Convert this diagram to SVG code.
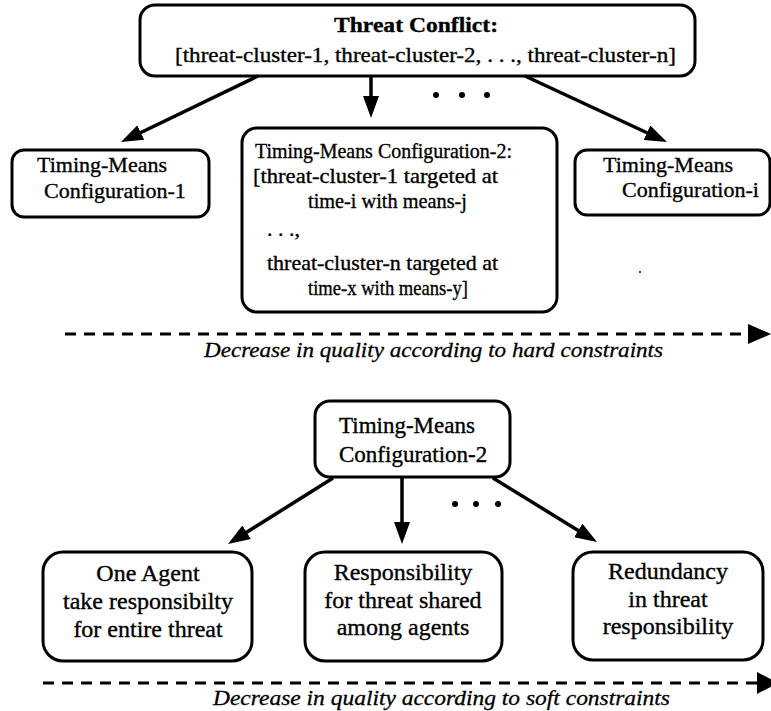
<svg xmlns="http://www.w3.org/2000/svg" width="771" height="711" viewBox="0 0 771 711">
  <style>
    .box { fill: #fff; stroke: #000; stroke-width: 3; }
    .t { font-family: "Liberation Serif", "Times New Roman", serif; fill: #000; stroke: #000; stroke-width: 0.35; }
    .n22 { font-size: 22px; }
    .n23 { font-size: 23px; }
    .n24 { font-size: 24px; }
    .mid { text-anchor: middle; }
    .b { font-weight: bold; }
    .cap { font-family: "Liberation Serif", serif; font-style: italic; font-size: 22px; fill: #000; stroke: #000; stroke-width: 0.3; }
    .edge { fill: none; stroke: #000; stroke-width: 3.5; marker-end: url(#head); }
    .dash { fill: none; stroke: #000; stroke-width: 3; stroke-dasharray: 11 8; }
  </style>
  <defs>
    <marker id="head" markerUnits="userSpaceOnUse" markerWidth="22" markerHeight="16" viewBox="0 0 22 16" refX="16" refY="8" orient="auto">
      <path d="M0,0 L22,8 L0,16 z" fill="#000"/>
    </marker>
  </defs>

  <rect width="771" height="711" fill="#fff"/>

  <!-- upper tree -->
  <g id="threat-conflict">
    <rect class="box" x="140" y="5" width="555" height="71" rx="15"/>
    <text class="t n22 b" x="334" y="32" textLength="164" lengthAdjust="spacingAndGlyphs">Threat  Conflict:</text>
    <text class="t n22" x="175" y="62" textLength="501" lengthAdjust="spacingAndGlyphs">[threat-cluster-1, threat-cluster-2, . . ., threat-cluster-n]</text>
  </g>

  <g id="config-1">
    <rect class="box" x="12" y="150" width="197" height="67" rx="12"/>
    <text class="t n22" x="37" y="172">Timing-Means</text>
    <text class="t n22" x="44" y="198">Configuration-1</text>
  </g>

  <g id="config-2-detail">
    <rect class="box" x="242" y="128" width="315" height="184" rx="15"/>
    <text class="t n22" x="255" y="158" textLength="257" lengthAdjust="spacingAndGlyphs">Timing-Means  Configuration-2:</text>
    <text class="t n22" x="253" y="183" textLength="245" lengthAdjust="spacingAndGlyphs">[threat-cluster-1 targeted at</text>
    <text class="t n22" x="308" y="208" textLength="159" lengthAdjust="spacingAndGlyphs">time-i with means-j</text>
    <text class="t n22" x="267" y="236">. . .,</text>
    <text class="t n22" x="267" y="270" textLength="231" lengthAdjust="spacingAndGlyphs">threat-cluster-n targeted at</text>
    <text class="t n22" x="308" y="295" textLength="160" lengthAdjust="spacingAndGlyphs">time-x with means-y]</text>
  </g>

  <g id="config-i">
    <rect class="box" x="575" y="150" width="195" height="65" rx="12"/>
    <text class="t n22" x="603" y="172">Timing-Means</text>
    <text class="t n22" x="622" y="197">Configuration-i</text>
  </g>

  <g id="upper-edges">
    <path class="edge" d="M258,76 L126.4,139.5"/>
    <path class="edge" d="M371,76 L371,112"/>
    <path class="edge" d="M525,76 L661.5,139.5"/>
    <circle cx="436" cy="95" r="3"/>
    <circle cx="462" cy="95" r="3"/>
    <circle cx="487" cy="95" r="3"/>
  </g>

  <circle cx="640" cy="272" r="1"/>

  <!-- hard-constraint scale -->
  <g id="hard-scale">
    <path class="dash" d="M65,334 L750,334"/>
    <polygon points="748,324 771,334 748,344" fill="#000"/>
    <text class="cap" x="204" y="357" textLength="459" lengthAdjust="spacingAndGlyphs">Decrease in quality according to hard constraints</text>
  </g>

  <!-- lower tree -->
  <g id="config-2">
    <rect class="box" x="315" y="401" width="195" height="76" rx="15"/>
    <text class="t n23" x="339" y="433">Timing-Means</text>
    <text class="t n23" x="339" y="462">Configuration-2</text>
  </g>

  <g id="one-agent">
    <rect class="box" x="43" y="552" width="209" height="109" rx="20"/>
    <text class="t n24 mid" x="148" y="581">One Agent</text>
    <text class="t n24 mid" x="148" y="609">take responsibilty</text>
    <text class="t n24 mid" x="148" y="637">for entire threat</text>
  </g>

  <g id="shared">
    <rect class="box" x="305" y="552" width="197" height="109" rx="20"/>
    <text class="t n24 mid" x="403" y="580">Responsibility</text>
    <text class="t n24 mid" x="403" y="608">for threat shared</text>
    <text class="t n24 mid" x="403" y="635">among agents</text>
  </g>

  <g id="redundancy">
    <rect class="box" x="573" y="552" width="190" height="108" rx="20"/>
    <text class="t n24 mid" x="668" y="579">Redundancy</text>
    <text class="t n24 mid" x="668" y="607">in threat</text>
    <text class="t n24 mid" x="668" y="634">responsibility</text>
  </g>

  <g id="lower-edges">
    <path class="edge" d="M333,478 L233.1,540.8"/>
    <path class="edge" d="M402,477 L402,538"/>
    <path class="edge" d="M493,478 L591.9,538.9"/>
    <circle cx="455" cy="504" r="3"/>
    <circle cx="476" cy="504" r="3"/>
    <circle cx="498" cy="504" r="3"/>
  </g>

  <!-- soft-constraint scale -->
  <g id="soft-scale">
    <path class="dash" d="M43,683 L758,683"/>
    <polygon points="757,672 778,683 757,694" fill="#000"/>
    <text class="cap" x="213" y="705" textLength="457" lengthAdjust="spacingAndGlyphs">Decrease in quality according to soft constraints</text>
  </g>
</svg>
